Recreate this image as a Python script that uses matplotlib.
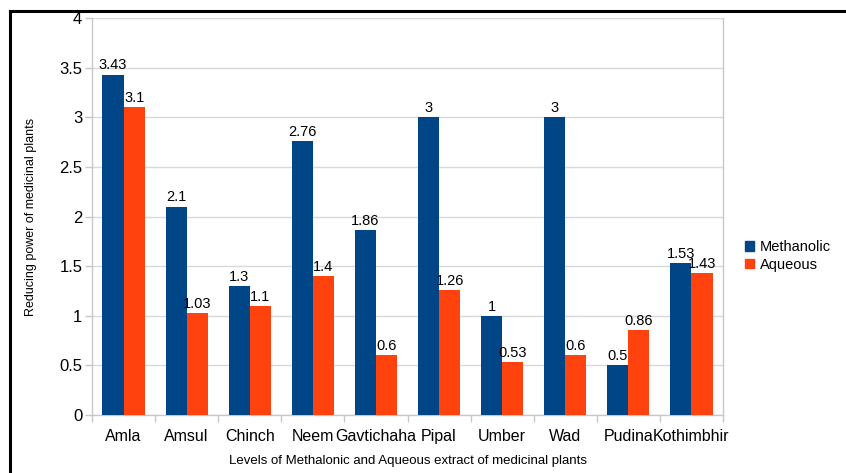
import matplotlib
matplotlib.use("Agg")
import matplotlib.pyplot as plt
import numpy as np
from matplotlib.lines import Line2D
from matplotlib.patches import Patch

plants = ["Amla", "Amsul", "Chinch", "Neem", "Gavtichaha", "Pipal",
          "Umber", "Wad", "Pudina", "Kothimbhir"]
methanolic = [3.43, 2.1, 1.3, 2.76, 1.86, 3, 1, 3, 0.5, 1.53]
aqueous = [3.1, 1.03, 1.1, 1.4, 0.6, 1.26, 0.53, 0.6, 0.86, 1.43]
yticks = [0, 0.5, 1, 1.5, 2, 2.5, 3, 3.5, 4]
ytick_labels = ["0", "0.5", "1", "1.5", "2", "2.5", "3", "3.5", "4"]

BLUE = "#004586"
ORANGE = "#ff420e"

plt.rcParams["font.family"] = ["Liberation Sans", "DejaVu Sans"]

fig = plt.figure(figsize=(8.46, 4.73), dpi=100)
W, H = 846, 473
ax = fig.add_axes([92 / W, 1 - 415 / H, (723 - 92) / W, (415 - 18) / H])

x = np.arange(len(plants))
w = 0.335
b1 = ax.bar(x - w / 2, methanolic, w, color=BLUE, zorder=3)
b2 = ax.bar(x + w / 2, aqueous, w, color=ORANGE, zorder=3)

def fmt(v):
    return ("%g" % v)

for bars, vals in ((b1, methanolic), (b2, aqueous)):
    for r, v in zip(bars, vals):
        ax.annotate(fmt(v), (r.get_x() + r.get_width() / 2, v),
                    xytext=(0, 1.5), textcoords="offset points",
                    ha="center", va="bottom", fontsize=10.5, zorder=4)

ax.set_xlim(-0.5, len(plants) - 0.5)
ax.set_ylim(0, 4)
ax.set_yticks(yticks)
ax.set_yticklabels(ytick_labels, fontsize=12)
ax.yaxis.grid(True, color="#d9d9d9", linewidth=1, zorder=0)

ax.set_xticks(x)
ax.set_xticklabels(plants, fontsize=11.5)
ax.tick_params(axis="x", length=0, pad=10)
ax.set_xticks(np.arange(-0.5, len(plants)), minor=True)
ax.tick_params(axis="x", which="minor", length=5, color="#c8c8c8", width=1)
ax.tick_params(axis="y", length=5, color="#c8c8c8", width=1, pad=2)

for s in ("left", "right", "bottom"):
    ax.spines[s].set_color("#c8c8c8")
    ax.spines[s].set_linewidth(1)
ax.spines["top"].set_visible(False)

ax.set_xlabel("Levels of Methalonic and Aqueous extract of medicinal plants",
              fontsize=9.5, labelpad=8)
ax.set_ylabel("Reducing power of medicinal plants", fontsize=9, labelpad=16)

handles = [Patch(color=BLUE), Patch(color=ORANGE)]
fig.legend(handles, ["Methanolic", "Aqueous"], loc="center left",
           bbox_to_anchor=(745 / W, 1 - 256 / H), frameon=False, fontsize=10.5,
           handlelength=0.6, handleheight=0.6, handletextpad=0.4,
           labelspacing=0.25, borderaxespad=0, borderpad=0)

# frame lines on top and left
fig.add_artist(Line2D([10 / W, 1], [1 - 11 / H, 1 - 11 / H],
                      color="black", linewidth=2.2, transform=fig.transFigure))
fig.add_artist(Line2D([10 / W, 10 / W], [0, 1 - 11 / H],
                      color="black", linewidth=2.2, transform=fig.transFigure))

fig.savefig("out.png", dpi=100)
